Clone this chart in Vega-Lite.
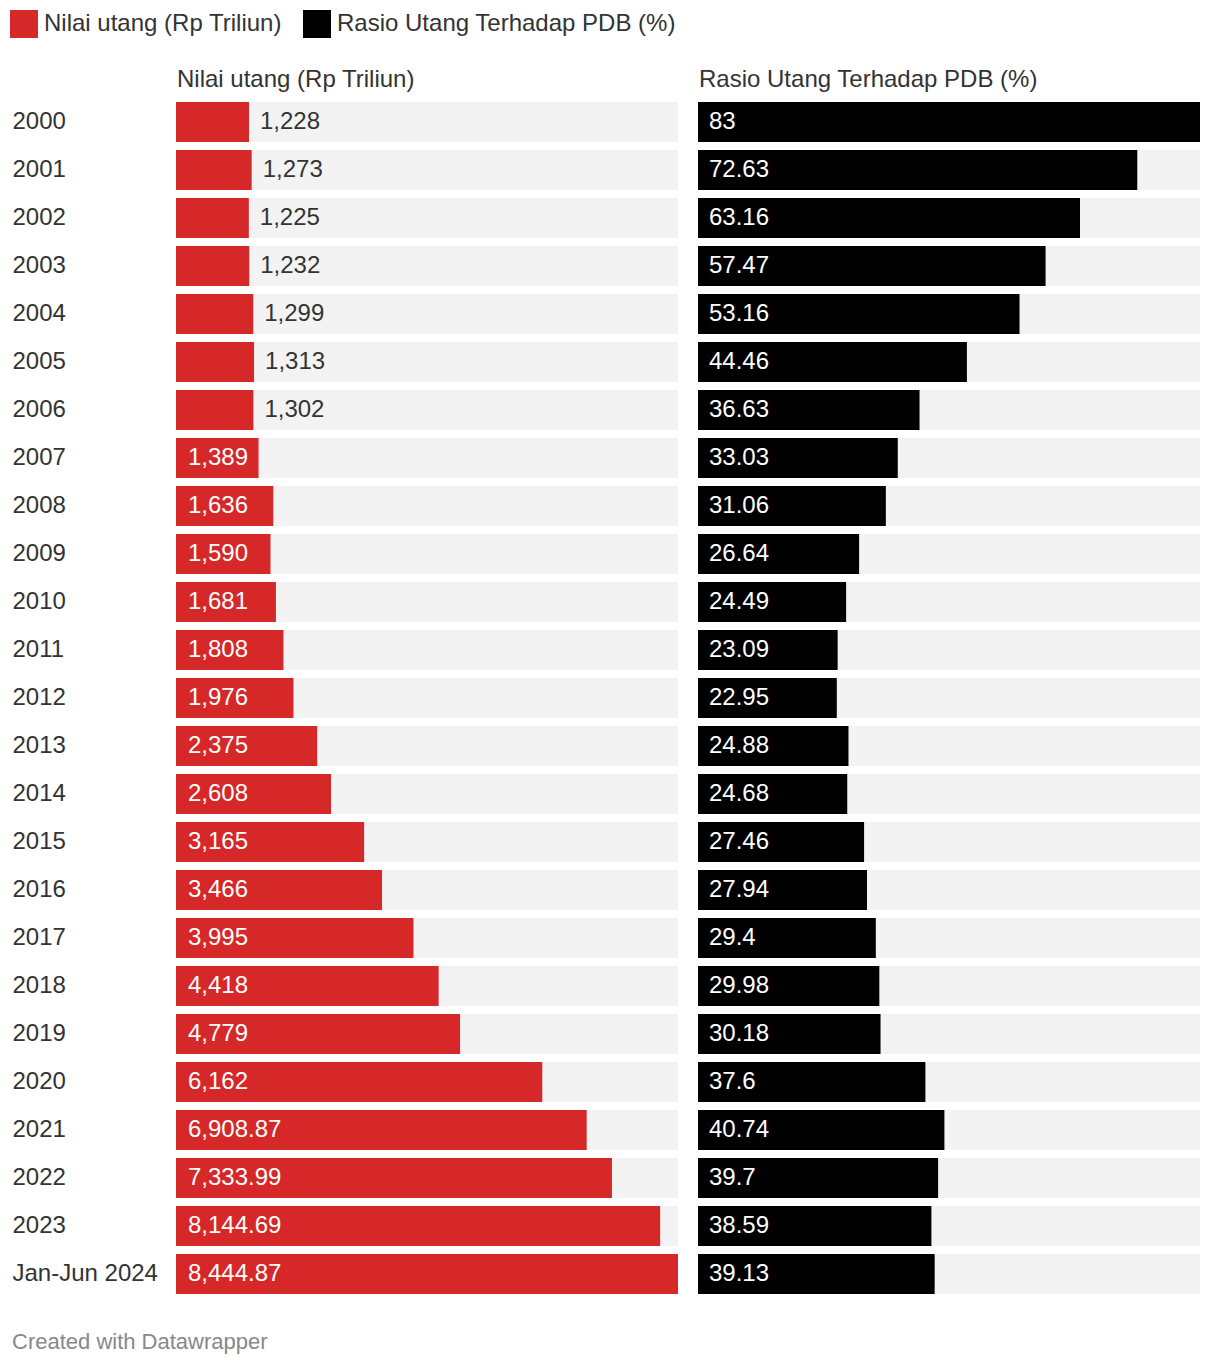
{
  "$schema": "https://vega.github.io/schema/vega-lite/v6.json",
  "background": "white",
  "padding": {"left": 10, "top": 10, "right": 20, "bottom": 10},
  "data": {"values": [
    {"year": "2000", "nilai": 1228, "rasio": 83},
    {"year": "2001", "nilai": 1273, "rasio": 72.63},
    {"year": "2002", "nilai": 1225, "rasio": 63.16},
    {"year": "2003", "nilai": 1232, "rasio": 57.47},
    {"year": "2004", "nilai": 1299, "rasio": 53.16},
    {"year": "2005", "nilai": 1313, "rasio": 44.46},
    {"year": "2006", "nilai": 1302, "rasio": 36.63},
    {"year": "2007", "nilai": 1389, "rasio": 33.03},
    {"year": "2008", "nilai": 1636, "rasio": 31.06},
    {"year": "2009", "nilai": 1590, "rasio": 26.64},
    {"year": "2010", "nilai": 1681, "rasio": 24.49},
    {"year": "2011", "nilai": 1808, "rasio": 23.09},
    {"year": "2012", "nilai": 1976, "rasio": 22.95},
    {"year": "2013", "nilai": 2375, "rasio": 24.88},
    {"year": "2014", "nilai": 2608, "rasio": 24.68},
    {"year": "2015", "nilai": 3165, "rasio": 27.46},
    {"year": "2016", "nilai": 3466, "rasio": 27.94},
    {"year": "2017", "nilai": 3995, "rasio": 29.4},
    {"year": "2018", "nilai": 4418, "rasio": 29.98},
    {"year": "2019", "nilai": 4779, "rasio": 30.18},
    {"year": "2020", "nilai": 6162, "rasio": 37.6},
    {"year": "2021", "nilai": 6908.87, "rasio": 40.74},
    {"year": "2022", "nilai": 7333.99, "rasio": 39.7},
    {"year": "2023", "nilai": 8144.69, "rasio": 38.59},
    {"year": "Jan-Jun 2024", "nilai": 8444.87, "rasio": 39.13}
  ]},
  "title": {
    "text": "Created with Datawrapper",
    "orient": "bottom",
    "anchor": "start",
    "fontSize": 22,
    "fontWeight": "normal",
    "color": "#888888",
    "font": "Liberation Sans",
    "offset": 38,
    "dx": 2
  },
  "spacing": 20,
  "hconcat": [
    {
      "width": 502,
      "height": 1192,
      "title": {"text": "Nilai utang (Rp Triliun)", "anchor": "start", "frame": "group", "offset": 10, "dx": 1},
      "encoding": {
        "y": {
          "field": "year", "type": "nominal", "sort": null,
          "scale": {"paddingInner": 0.16667, "paddingOuter": 0},
          "axis": {"title": null, "domain": false, "ticks": false, "labelAlign": "left", "labelPadding": 164, "labelFontSize": 24, "labelColor": "#333333", "labelFont": "Liberation Sans", "labelLimit": 0}
        }
      },
      "layer": [
        {
          "mark": {"type": "bar", "color": "#f3f3f3"},
          "encoding": {"x": {"value": 0}, "x2": {"value": "width"}}
        },
        {
          "mark": {"type": "bar"},
          "encoding": {
            "x": {"field": "nilai", "type": "quantitative", "scale": {"nice": false, "zero": true}, "axis": null},
            "color": {"datum": "Nilai utang (Rp Triliun)", "type": "nominal"}
          }
        },
        {
          "transform": [{"filter": "datum.nilai < 1350"}],
          "mark": {"type": "text", "align": "left", "dx": 11, "fontSize": 24, "color": "#333333", "font": "Liberation Sans"},
          "encoding": {
            "x": {"field": "nilai", "type": "quantitative"},
            "text": {"field": "nilai", "type": "quantitative", "format": ",.2~f"}
          }
        },
        {
          "transform": [{"filter": "datum.nilai >= 1350"}],
          "mark": {"type": "text", "align": "left", "dx": 12, "fontSize": 24, "color": "white", "font": "Liberation Sans"},
          "encoding": {
            "x": {"value": 0},
            "text": {"field": "nilai", "type": "quantitative", "format": ",.2~f"}
          }
        }
      ]
    },
    {
      "width": 502,
      "height": 1192,
      "title": {"text": "Rasio Utang Terhadap PDB (%)", "anchor": "start", "frame": "group", "offset": 10, "dx": 1},
      "encoding": {
        "y": {
          "field": "year", "type": "nominal", "sort": null,
          "scale": {"paddingInner": 0.16667, "paddingOuter": 0},
          "axis": null
        }
      },
      "layer": [
        {
          "mark": {"type": "bar", "color": "#f3f3f3"},
          "encoding": {"x": {"value": 0}, "x2": {"value": "width"}}
        },
        {
          "mark": {"type": "bar"},
          "encoding": {
            "x": {"field": "rasio", "type": "quantitative", "scale": {"nice": false, "zero": true}, "axis": null},
            "color": {"datum": "Rasio Utang Terhadap PDB (%)", "type": "nominal"}
          }
        },
        {
          "mark": {"type": "text", "align": "left", "dx": 11, "fontSize": 24, "color": "white", "font": "Liberation Sans"},
          "encoding": {
            "x": {"value": 0},
            "text": {"field": "rasio", "type": "quantitative", "format": ".2~f"}
          }
        }
      ]
    }
  ],
  "resolve": {"scale": {"color": "shared"}},
  "config": {
    "view": {"stroke": null},
    "font": "Liberation Sans",
    "title": {"fontSize": 24, "fontWeight": "normal", "color": "#333333", "font": "Liberation Sans"},
    "scale": {"bandPaddingInner": 0.16667},
    "range": {"category": ["#d62828", "#000000"]},
    "legend": {
      "orient": "none",
      "legendX": -166,
      "legendY": -92,
      "direction": "horizontal",
      "title": null,
      "symbolType": "square",
      "symbolSize": 784,
      "symbolStrokeWidth": 0,
      "symbolOpacity": 1,
      "labelFontSize": 24,
      "labelColor": "#333333",
      "labelFont": "Liberation Sans",
      "labelLimit": 0,
      "labelOffset": 6,
      "columnPadding": 21
    }
  }
}
